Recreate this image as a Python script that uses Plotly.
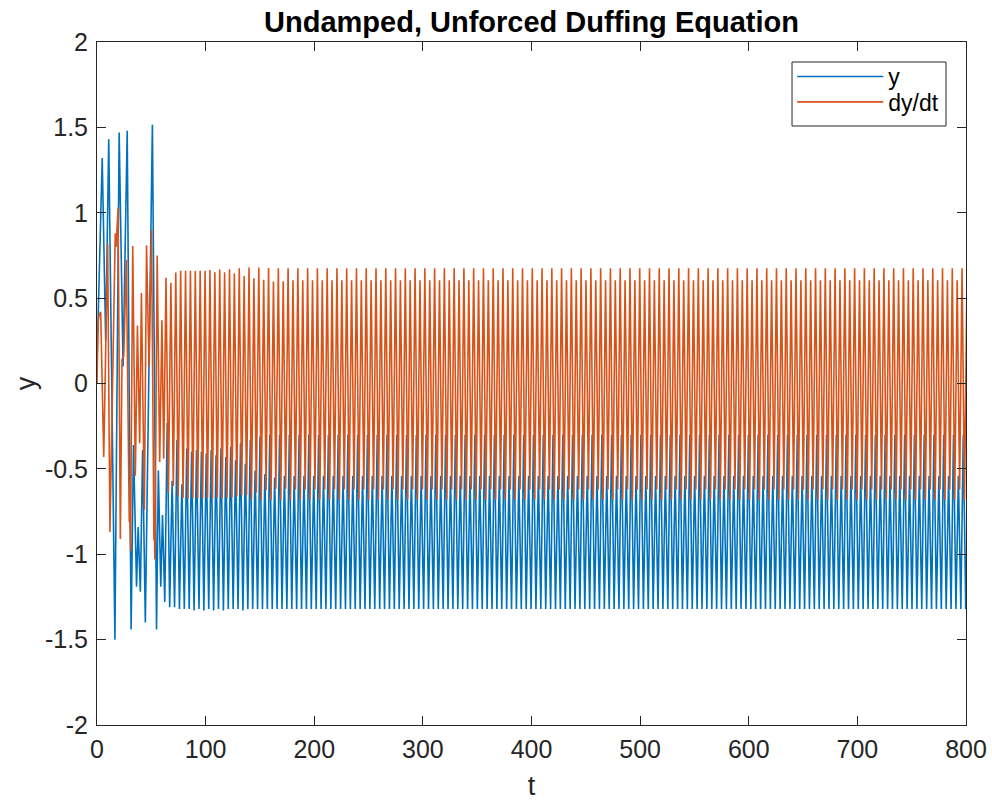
import plotly.graph_objects as go

# ---- start-up transient: turning points read as (t, value) ----
y_start_t = [0.0, 4.8, 8.0, 10.8, 16.5, 20.4, 24.0, 27.8, 31.4, 33.6, 36.4,
             37.9, 39.9, 42.0, 44.5, 47.6, 51.0, 54.8, 56.5, 58.7, 60.3]
y_start = [0.12, 1.32, 0.25, 1.43, -1.50, 1.47, 0.10, 1.48, -1.44, -0.36, -1.19,
           -0.84, -1.22, -0.39, -1.40, 0.08, 1.515, -1.44, -0.51, -1.19, -0.77]

dydt_start_t = [0.0, 1.0, 2.0, 3.4, 6.2, 9.8, 11.9, 16.8, 17.6, 19.4, 21.5,
                23.0, 24.6, 27.0, 29.7, 30.3, 30.9, 32.9, 35.3, 37.2, 39.3,
                40.9, 43.6, 45.6, 47.9, 50.2, 52.4, 52.9, 53.3, 55.4, 57.7,
                59.8, 61.4]
dydt_start = [0.0, 0.36, 0.40, 0.42, -0.43, 0.82, -0.87, 0.88, 0.80, 1.03, -0.91,
              0.14, 0.16, 0.725, -0.81, -0.78, -0.98, 0.805, -0.54, 0.34, -0.35,
              0.53, -0.74, 0.81, 0.10, 0.90, -0.92, -0.90, -1.03, 0.75, -0.46,
              0.37, -0.44]

# ---- settled oscillation: one entry per cycle ----
cycle_t0 = 62.4      # time of the first settled trough of y
cycle_len = 4.496    # oscillation period

y_trough = [
    -1.28, -1.31, -1.31, -1.32, -1.32, -1.32, -1.33, -1.32, -1.33, -1.32,
    -1.33, -1.32, -1.33, -1.32, -1.32, -1.32, -1.33, -1.32, -1.32, -1.32,
    -1.32, -1.32, -1.32, -1.32, -1.32, -1.32, -1.32, -1.32, -1.32, -1.32,
    -1.32, -1.32, -1.32, -1.32, -1.32, -1.32, -1.32, -1.32, -1.32, -1.32,
    -1.32, -1.32, -1.32, -1.32, -1.32, -1.32, -1.32, -1.32, -1.32, -1.32,
    -1.32, -1.32, -1.32, -1.32, -1.32, -1.32, -1.32, -1.32, -1.32, -1.32,
    -1.32, -1.32, -1.32, -1.32, -1.32, -1.32, -1.32, -1.32, -1.32, -1.32,
    -1.32, -1.32, -1.32, -1.32, -1.32, -1.32, -1.32, -1.32, -1.32, -1.32,
    -1.32, -1.32, -1.32, -1.32, -1.32, -1.32, -1.32, -1.32, -1.32, -1.32,
    -1.32, -1.32, -1.32, -1.32, -1.32, -1.32, -1.32, -1.32, -1.32, -1.32,
    -1.32, -1.32, -1.32, -1.32, -1.32, -1.32, -1.32, -1.32, -1.32, -1.32,
    -1.32, -1.32, -1.32, -1.32, -1.32, -1.32, -1.32, -1.32, -1.32, -1.32,
    -1.32, -1.32, -1.32, -1.32, -1.32, -1.32, -1.32, -1.32, -1.32, -1.32,
    -1.32, -1.32, -1.32, -1.32, -1.32, -1.32, -1.32, -1.32, -1.32, -1.32,
    -1.32, -1.32, -1.32, -1.32, -1.32, -1.32, -1.32, -1.32, -1.32, -1.32,
    -1.32, -1.32, -1.32, -1.32, -1.32, -1.32, -1.32, -1.32, -1.32, -1.32,
    -1.32, -1.32, -1.32, -1.32, -1.32,
]
y_crest = [
    -0.23, -0.57, -0.33, -0.59, -0.38, -0.40, -0.39, -0.40, -0.41, -0.39,
    -0.42, -0.38, -0.43, -0.37, -0.45, -0.35, -0.47, -0.33, -0.51, -0.31,
    -0.53, -0.30, -0.55, -0.30, -0.54, -0.30, -0.54, -0.30, -0.54, -0.30,
    -0.54, -0.30, -0.54, -0.30, -0.54, -0.30, -0.54, -0.30, -0.54, -0.30,
    -0.54, -0.30, -0.54, -0.30, -0.54, -0.30, -0.54, -0.30, -0.54, -0.30,
    -0.54, -0.30, -0.54, -0.30, -0.54, -0.30, -0.54, -0.30, -0.54, -0.30,
    -0.54, -0.30, -0.54, -0.30, -0.54, -0.30, -0.54, -0.30, -0.54, -0.30,
    -0.54, -0.30, -0.54, -0.30, -0.54, -0.30, -0.54, -0.30, -0.54, -0.30,
    -0.54, -0.30, -0.54, -0.30, -0.54, -0.30, -0.54, -0.30, -0.54, -0.30,
    -0.54, -0.30, -0.54, -0.30, -0.54, -0.30, -0.54, -0.30, -0.54, -0.30,
    -0.54, -0.30, -0.54, -0.30, -0.54, -0.30, -0.54, -0.30, -0.54, -0.30,
    -0.54, -0.30, -0.54, -0.30, -0.54, -0.30, -0.54, -0.30, -0.54, -0.30,
    -0.54, -0.30, -0.54, -0.30, -0.54, -0.30, -0.54, -0.30, -0.54, -0.30,
    -0.54, -0.30, -0.54, -0.30, -0.54, -0.30, -0.54, -0.30, -0.54, -0.30,
    -0.54, -0.30, -0.54, -0.30, -0.54, -0.30, -0.54, -0.30, -0.54, -0.30,
    -0.54, -0.30, -0.54, -0.30, -0.54, -0.30, -0.54, -0.30, -0.54, -0.30,
    -0.54, -0.30, -0.54, -0.30, -0.54,
]
dydt_crest = [
    0.62, 0.59, 0.65, 0.66, 0.66, 0.66, 0.66, 0.66, 0.66, 0.665,
    0.652, 0.667, 0.652, 0.669, 0.644, 0.675, 0.630, 0.679, 0.616, 0.679,
    0.607, 0.677, 0.597, 0.675, 0.599, 0.675, 0.605, 0.675, 0.605, 0.675,
    0.605, 0.675, 0.605, 0.675, 0.605, 0.675, 0.605, 0.675, 0.605, 0.675,
    0.605, 0.675, 0.605, 0.675, 0.605, 0.675, 0.605, 0.675, 0.605, 0.675,
    0.605, 0.675, 0.605, 0.675, 0.605, 0.675, 0.605, 0.675, 0.605, 0.675,
    0.605, 0.675, 0.605, 0.675, 0.605, 0.675, 0.605, 0.675, 0.605, 0.675,
    0.605, 0.675, 0.605, 0.675, 0.605, 0.675, 0.605, 0.675, 0.605, 0.675,
    0.605, 0.675, 0.605, 0.675, 0.605, 0.675, 0.605, 0.675, 0.605, 0.675,
    0.605, 0.675, 0.605, 0.675, 0.605, 0.675, 0.605, 0.675, 0.605, 0.675,
    0.605, 0.675, 0.605, 0.675, 0.605, 0.675, 0.605, 0.675, 0.605, 0.675,
    0.605, 0.675, 0.605, 0.675, 0.605, 0.675, 0.605, 0.675, 0.605, 0.675,
    0.605, 0.675, 0.605, 0.675, 0.605, 0.675, 0.605, 0.675, 0.605, 0.675,
    0.605, 0.675, 0.605, 0.675, 0.605, 0.675, 0.605, 0.675, 0.605, 0.675,
    0.605, 0.675, 0.605, 0.675, 0.605, 0.675, 0.605, 0.675, 0.605, 0.675,
    0.605, 0.675, 0.605, 0.675, 0.605, 0.675, 0.605, 0.675, 0.605, 0.675,
    0.605, 0.675, 0.605, 0.675, 0.605,
]
dydt_trough = [
    -0.64, -0.60, -0.66, -0.67, -0.67, -0.67, -0.67, -0.673, -0.668, -0.673,
    -0.668, -0.673, -0.668, -0.668, -0.660, -0.654, -0.654, -0.679, -0.639, -0.679,
    -0.625, -0.683, -0.617, -0.683, -0.617, -0.683, -0.621, -0.680, -0.621, -0.680,
    -0.621, -0.680, -0.621, -0.680, -0.621, -0.680, -0.621, -0.680, -0.621, -0.680,
    -0.621, -0.680, -0.621, -0.680, -0.621, -0.680, -0.621, -0.680, -0.621, -0.680,
    -0.621, -0.680, -0.621, -0.680, -0.621, -0.680, -0.621, -0.680, -0.621, -0.680,
    -0.621, -0.680, -0.621, -0.680, -0.621, -0.680, -0.621, -0.680, -0.621, -0.680,
    -0.621, -0.680, -0.621, -0.680, -0.621, -0.680, -0.621, -0.680, -0.621, -0.680,
    -0.621, -0.680, -0.621, -0.680, -0.621, -0.680, -0.621, -0.680, -0.621, -0.680,
    -0.621, -0.680, -0.621, -0.680, -0.621, -0.680, -0.621, -0.680, -0.621, -0.680,
    -0.621, -0.680, -0.621, -0.680, -0.621, -0.680, -0.621, -0.680, -0.621, -0.680,
    -0.621, -0.680, -0.621, -0.680, -0.621, -0.680, -0.621, -0.680, -0.621, -0.680,
    -0.621, -0.680, -0.621, -0.680, -0.621, -0.680, -0.621, -0.680, -0.621, -0.680,
    -0.621, -0.680, -0.621, -0.680, -0.621, -0.680, -0.621, -0.680, -0.621, -0.680,
    -0.621, -0.680, -0.621, -0.680, -0.621, -0.680, -0.621, -0.680, -0.621, -0.680,
    -0.621, -0.680, -0.621, -0.680, -0.621, -0.680, -0.621, -0.680, -0.621, -0.680,
    -0.621, -0.680, -0.621, -0.680, -0.621,
]

# ---- tick labels ----
x_ticks = [0, 100, 200, 300, 400, 500, 600, 700, 800]
x_tick_text = ["0", "100", "200", "300", "400", "500", "600", "700", "800"]
y_ticks = [-2, -1.5, -1, -0.5, 0, 0.5, 1, 1.5, 2]
y_tick_text = ["-2", "-1.5", "-1", "-0.5", "0", "0.5", "1", "1.5", "2"]

# assemble the two time series: transient followed by settled cycles
t_y, y_vals = list(y_start_t), list(y_start)
t_v, v_vals = list(dydt_start_t), list(dydt_start)
for k in range(len(y_trough)):
    c = cycle_t0 + k * cycle_len
    t_y += [c, c + cycle_len / 2]
    y_vals += [y_trough[k], y_crest[k]]
    t_v += [c + cycle_len / 4, c + 3 * cycle_len / 4]
    v_vals += [dydt_crest[k], dydt_trough[k]]

BLUE = "#0072BD"
ORANGE = "#D95319"
INK = "#262626"
FONT = "Liberation Sans, Arial, Helvetica, sans-serif"

fig = go.Figure()
fig.add_trace(go.Scatter(x=t_y, y=y_vals, mode="lines", name="y",
                         line=dict(color=BLUE, width=1.6), legend="legend"))
fig.add_trace(go.Scatter(x=t_v, y=v_vals, mode="lines", name="dy/dt",
                         line=dict(color=ORANGE, width=1.6), legend="legend2"))

axis_common = dict(
    showline=True, mirror="ticks", linecolor=INK, linewidth=1,
    ticks="inside", ticklen=9, tickwidth=1, tickcolor=INK,
    showgrid=False, zeroline=False, automargin=False,
    tickfont=dict(family=FONT, size=25, color=INK),
)

legend_common = dict(
    xanchor="left", yanchor="middle", bgcolor="rgba(0,0,0,0)",
    borderwidth=0, font=dict(family=FONT, size=23, color="black"),
    itemwidth=86,
)

fig.update_layout(
    width=992, height=802,
    margin=dict(l=97, r=26, t=42, b=77),
    paper_bgcolor="white", plot_bgcolor="white",
    font=dict(family=FONT, color=INK),
    title=dict(text="Undamped, Unforced Duffing Equation",
               font=dict(family=FONT, size=29, color="black", weight="bold"),
               x=0.5, xanchor="center", xref="paper",
               y=1 - 22 / 802, yanchor="middle"),
    xaxis=dict(range=[0, 800], tickvals=x_ticks, ticktext=x_tick_text,
               title=dict(text="t", font=dict(family=FONT, size=27, color=INK),
                          standoff=14),
               ticklabelstandoff=2, **axis_common),
    yaxis=dict(range=[-2, 2], tickvals=y_ticks, ticktext=y_tick_text,
               title=dict(text="y", font=dict(family=FONT, size=27, color=INK),
                          standoff=1),
               ticklabelstandoff=3, **axis_common),
    legend=dict(x=0.8, y=0.9495, **legend_common),
    legend2=dict(x=0.8, y=0.9122, **legend_common),
    showlegend=True,
    shapes=[dict(type="rect", xref="paper", yref="paper",
                 x0=0.7998, x1=0.9770, y0=0.8770, y1=0.9707,
                 line=dict(color=INK, width=1), fillcolor="white",
                 layer="above")],
)

fig.write_html("out.html")
